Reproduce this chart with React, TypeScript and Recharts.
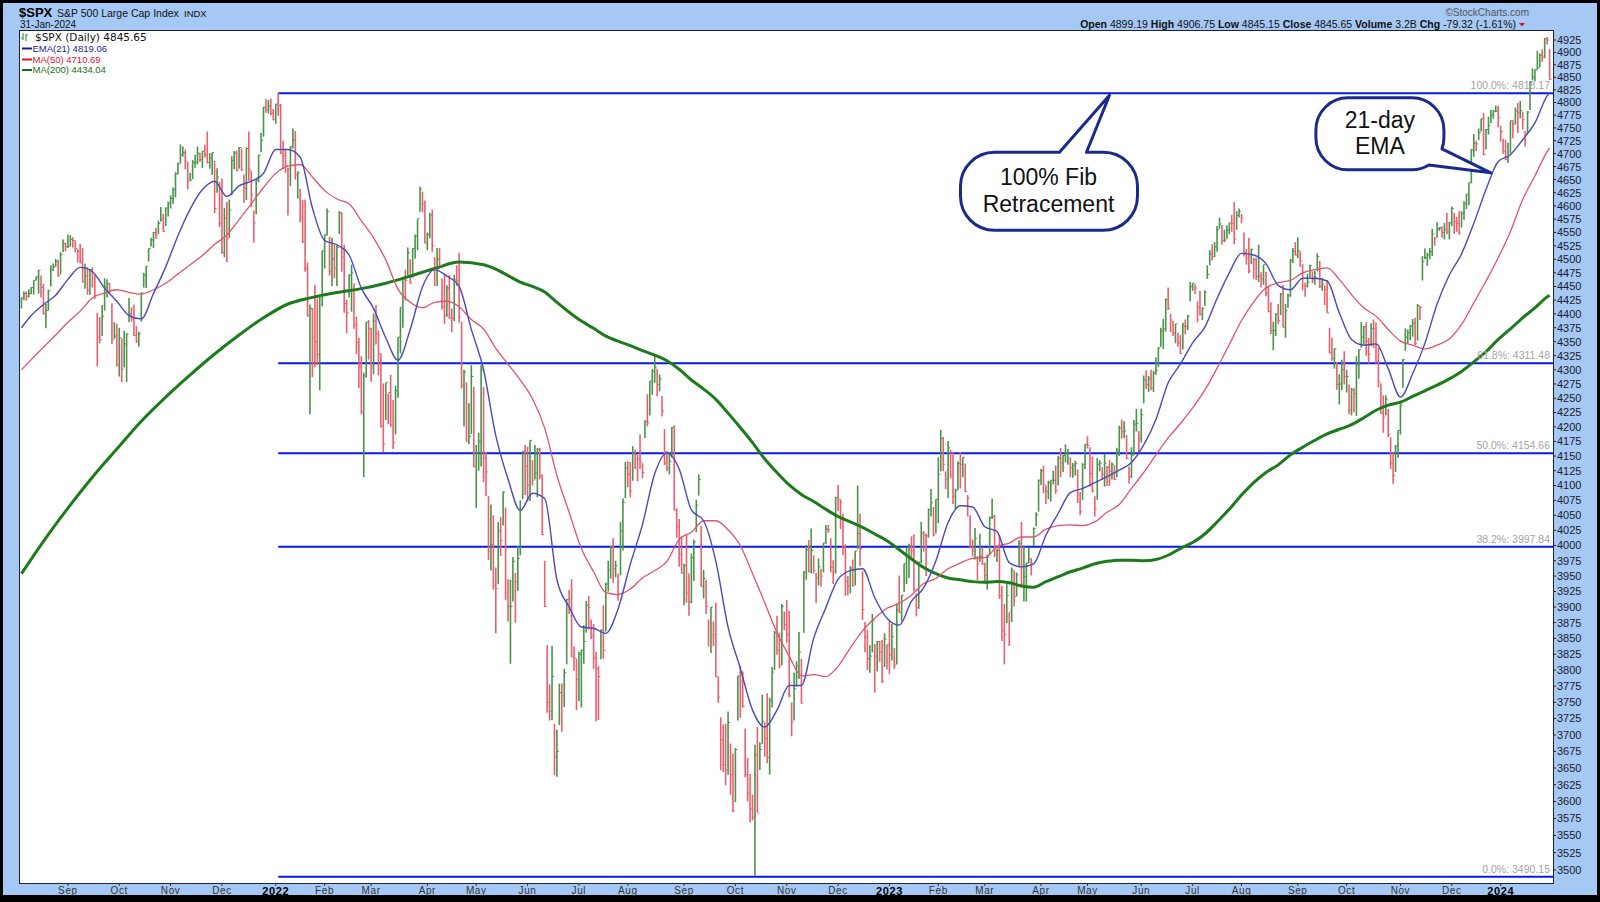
import React from 'react';
import {
  ComposedChart, XAxis, YAxis, Scatter, ErrorBar, Line, ReferenceLine, ReferenceDot,
} from 'recharts';

// daily bars Aug 5 2021 -> Jan 31 2024 : [high, low, close]
const bars: [number, number, number][] = [
  // Aug 2021
  [4430,4410,4429],[4441,4425,4437],[4441,4424,4432],[4445,4430,4437],[4449,4436,4448],[4461,4435,4461],[4468,4461,4468],[4480,4437,4480],[4470,4430,4448],[4455,4399,4400],[4418,4374,4406],[4444,4406,4442],[4489,4450,4480],[4492,4479,4486],[4501,4486,4496],[4499,4468,4470],[4513,4472,4509],[4537,4513,4529],[4531,4515,4523],
  // Sep
  [4546,4521,4524],[4545,4524,4537],[4541,4522,4535],[4535,4513,4520],[4519,4494,4514],[4529,4493,4493],[4521,4457,4459],[4492,4446,4469],[4486,4435,4443],[4482,4435,4481],[4485,4448,4474],[4471,4427,4433],[4402,4306,4358],[4394,4347,4354],[4416,4360,4396],[4465,4406,4449],[4463,4430,4455],[4457,4436,4443],[4419,4346,4353],[4385,4355,4360],[4382,4306,4308],
  // Oct
  [4375,4288,4357],[4356,4278,4301],[4369,4304,4346],[4365,4278,4364],[4429,4385,4400],[4412,4386,4391],[4417,4360,4361],[4378,4348,4351],[4368,4341,4364],[4439,4386,4438],[4475,4448,4471],[4487,4447,4487],[4520,4496,4520],[4540,4524,4536],[4551,4521,4550],[4559,4538,4545],[4572,4547,4567],[4598,4570,4575],[4585,4551,4552],[4597,4562,4596],[4608,4580,4605],
  // Nov
  [4620,4595,4614],[4635,4604,4631],[4664,4616,4661],[4683,4660,4680],[4718,4681,4698],[4714,4694,4702],[4708,4670,4685],[4684,4631,4647],[4663,4648,4649],[4688,4651,4683],[4698,4673,4683],[4714,4679,4701],[4701,4684,4689],[4705,4672,4705],[4717,4692,4698],[4743,4681,4683],[4701,4671,4691],[4702,4659,4702],[4686,4586,4595],[4672,4625,4655],[4646,4560,4567],
  // Dec
  [4652,4510,4513],[4596,4504,4577],[4608,4495,4538],[4612,4540,4592],[4695,4620,4687],[4705,4670,4701],[4706,4666,4668],[4713,4671,4712],[4710,4667,4669],[4660,4606,4634],[4712,4611,4710],[4743,4648,4669],[4667,4598,4621],[4591,4531,4568],[4651,4584,4649],[4698,4645,4697],[4740,4703,4726],[4791,4733,4791],[4807,4780,4786],[4805,4778,4793],[4808,4775,4779],[4787,4765,4766],
  // Jan 2022
  [4797,4758,4797],[4819,4774,4794],[4797,4699,4701],[4725,4671,4696],[4708,4663,4677],[4673,4582,4670],[4714,4638,4713],[4749,4710,4726],[4744,4650,4659],[4666,4614,4663],[4632,4569,4577],[4611,4530,4533],[4612,4477,4483],[4494,4395,4398],[4417,4222,4410],[4411,4287,4357],[4453,4304,4350],[4428,4309,4327],[4432,4264,4432],[4516,4414,4516],
  // Feb
  [4546,4483,4546],[4595,4544,4589],[4542,4470,4477],[4540,4451,4501],[4528,4465,4484],[4526,4451,4522],[4590,4547,4587],[4588,4477,4504],[4527,4402,4419],[4426,4365,4402],[4472,4430,4471],[4490,4404,4475],[4456,4373,4380],[4395,4328,4349],[4357,4268,4305],[4324,4222,4226],[4295,4114,4289],[4385,4286,4385],[4389,4318,4374],
  // Mar
  [4375,4279,4306],[4401,4292,4387],[4416,4345,4364],[4370,4290,4329],[4329,4199,4201],[4276,4157,4171],[4277,4212,4278],[4258,4205,4260],[4291,4200,4204],[4247,4162,4173],[4272,4187,4263],[4358,4251,4358],[4412,4329,4412],[4465,4375,4463],[4481,4424,4461],[4522,4470,4512],[4500,4455,4456],[4520,4466,4520],[4546,4501,4543],[4575,4517,4576],[4637,4589,4632],[4627,4588,4603],[4610,4530,4530],
  // Apr
  [4550,4517,4546],[4587,4539,4583],[4593,4514,4525],[4504,4451,4481],[4521,4451,4500],[4521,4487,4488],[4464,4408,4413],[4472,4382,4397],[4452,4395,4447],[4471,4391,4393],[4410,4367,4392],[4471,4387,4462],[4489,4451,4460],[4512,4384,4394],[4386,4267,4272],[4300,4201,4296],[4278,4175,4175],[4241,4170,4184],[4308,4188,4288],[4270,4131,4132],
  // May
  [4169,4062,4155],[4190,4125,4175],[4308,4132,4300],[4270,4106,4147],[4157,4082,4123],[4082,3976,3991],[4068,3959,4001],[4050,3928,3935],[3964,3858,3930],[4039,3937,4024],[4047,3983,4008],[4090,4033,4089],[4063,3911,3924],[3945,3877,3901],[3944,3810,3901],[3981,3909,3974],[3955,3875,3941],[3999,3926,3979],[4075,3984,4058],[4158,4077,4158],[4169,4084,4132],
  // Jun
  [4166,4074,4101],[4177,4074,4177],[4143,4100,4109],[4169,4110,4121],[4164,4080,4161],[4164,4111,4116],[4119,4017,4018],[3975,3900,3901],[3839,3734,3750],[3778,3722,3736],[3838,3723,3790],[3717,3639,3667],[3708,3637,3675],[3779,3715,3765],[3779,3705,3760],[3802,3743,3796],[3913,3809,3912],[3928,3889,3900],[3945,3820,3822],[3837,3799,3819],[3818,3738,3785],
  // Jul
  [3829,3752,3825],[3832,3742,3831],[3871,3810,3845],[3910,3859,3903],[3918,3864,3899],[3880,3849,3854],[3873,3802,3819],[3829,3721,3802],[3806,3723,3790],[3864,3817,3863],[3903,3818,3831],[3939,3861,3937],[3975,3925,3960],[3999,3946,3999],[4012,3939,3962],[3975,3948,3967],[3954,3910,3921],[4039,3951,4024],[4078,3992,4072],[4140,4079,4130],
  // Aug
  [4141,4097,4119],[4140,4080,4091],[4167,4108,4155],[4161,4128,4152],[4152,4107,4145],[4187,4128,4140],[4138,4112,4122],[4211,4181,4210],[4257,4201,4207],[4280,4220,4280],[4301,4256,4297],[4325,4277,4305],[4302,4253,4274],[4292,4262,4284],[4254,4218,4228],[4196,4135,4138],[4159,4124,4129],[4156,4119,4141],[4200,4147,4199],[4203,4058,4058],[4062,4013,4031],[4044,3965,3986],[4015,3954,3955],
  // Sep
  [3970,3903,3967],[4019,3907,3924],[3954,3886,3908],[3987,3906,3980],[4010,3942,4006],[4076,4022,4067],[4119,4083,4110],[4032,3933,3933],[3960,3914,3946],[3944,3889,3901],[3880,3837,3873],[3900,3827,3900],[3877,3838,3856],[3907,3789,3790],[3790,3749,3758],[3727,3647,3693],[3716,3644,3655],[3717,3624,3647],[3736,3640,3719],[3687,3610,3640],[3672,3584,3586],
  // Oct
  [3680,3599,3678],[3791,3722,3791],[3807,3726,3783],[3798,3742,3744],[3710,3636,3640],[3665,3600,3612],[3641,3569,3589],[3610,3572,3577],[3685,3492,3670],[3712,3584,3583],[3689,3647,3678],[3762,3686,3720],[3719,3667,3695],[3764,3657,3666],[3757,3640,3753],[3805,3742,3797],[3862,3800,3859],[3886,3824,3831],[3859,3803,3807],[3905,3808,3901],[3893,3863,3872],
  // Nov
  [3911,3843,3856],[3894,3758,3760],[3750,3698,3720],[3796,3722,3771],[3814,3774,3807],[3860,3786,3828],[3818,3748,3749],[3958,3859,3956],[4001,3944,3993],[4009,3956,3957],[4028,3954,3992],[3984,3954,3959],[3955,3906,3947],[3979,3935,3965],[3962,3933,3950],[4004,3956,4004],[4034,4003,4027],[4034,4021,4026],[4012,3956,3964],[3976,3937,3958],[4081,3954,4080],
  // Dec
  [4101,4057,4077],[4077,4027,4072],[4053,3984,3999],[4002,3918,3941],[3950,3919,3934],[3966,3922,3963],[3977,3933,3934],[3991,3935,3991],[4100,3994,4020],[4053,3966,3995],[3958,3879,3896],[3876,3828,3852],[3864,3800,3818],[3839,3796,3822],[3889,3828,3878],[3841,3765,3822],[3846,3798,3845],[3846,3813,3829],[3848,3780,3783],[3858,3805,3849],[3840,3801,3840],
  // Jan 2023
  [3878,3794,3824],[3873,3815,3853],[3835,3802,3808],[3906,3809,3895],[3951,3890,3892],[3919,3877,3919],[3970,3924,3970],[3997,3937,3983],[4003,3947,3999],[4015,3977,3991],[4018,3925,3929],[3922,3885,3899],[3973,3897,3973],[4039,3971,4020],[4024,3990,4017],[4020,3950,4016],[4061,4013,4060],[4094,4048,4071],[4064,4015,4018],[4077,4020,4077],
  // Feb
  [4148,4037,4119],[4195,4124,4180],[4183,4124,4136],[4124,4094,4111],[4176,4079,4164],[4161,4112,4118],[4157,4069,4082],[4095,4060,4091],[4141,4092,4137],[4157,4095,4136],[4148,4114,4148],[4137,4089,4090],[4084,4048,4079],[4050,3995,3997],[4010,3982,3991],[4029,3977,4012],[3983,3943,3970],[4019,3973,3982],[3997,3968,3970],
  // Mar
  [3972,3939,3951],[3985,3928,3981],[4048,3984,4046],[4078,4044,4048],[4051,3981,3986],[3995,3973,3992],[4017,3913,3918],[3934,3846,3862],[3905,3809,3856],[3937,3874,3919],[3891,3838,3892],[3964,3876,3960],[3959,3901,3917],[3956,3917,3952],[4009,3964,4003],[4039,3936,3937],[4000,3909,3949],[3972,3909,3971],[3996,3971,3978],[3979,3951,3971],[4030,3999,4028],[4055,4032,4051],[4110,4056,4109],
  // Apr
  [4128,4101,4125],[4133,4087,4101],[4100,4069,4090],[4108,4077,4105],[4109,4073,4109],[4125,4102,4109],[4134,4086,4092],[4150,4100,4146],[4164,4114,4138],[4152,4123,4151],[4170,4139,4155],[4162,4135,4155],[4148,4114,4130],[4138,4113,4134],[4142,4117,4137],[4127,4071,4072],[4089,4050,4056],[4138,4076,4135],[4170,4128,4170],
  // May
  [4184,4163,4168],[4165,4098,4120],[4149,4088,4091],[4082,4048,4061],[4147,4076,4136],[4143,4124,4138],[4131,4110,4119],[4154,4098,4138],[4133,4099,4131],[4143,4099,4124],[4139,4110,4136],[4135,4109,4110],[4164,4114,4159],[4202,4150,4198],[4213,4180,4192],[4210,4181,4193],[4186,4145,4146],[4132,4103,4115],[4165,4113,4151],[4212,4152,4205],[4231,4192,4206],[4193,4156,4180],
  // Jun
  [4232,4173,4221],[4290,4241,4282],[4299,4266,4274],[4289,4261,4284],[4300,4264,4268],[4298,4261,4294],[4322,4291,4299],[4340,4305,4339],[4375,4341,4369],[4391,4337,4373],[4428,4368,4426],[4448,4407,4410],[4400,4367,4389],[4387,4360,4366],[4382,4347,4382],[4366,4341,4348],[4362,4328,4329],[4384,4336,4378],[4390,4363,4377],[4398,4371,4396],[4458,4423,4450],
  // Jul
  [4456,4442,4456],[4454,4436,4447],[4423,4385,4412],[4442,4397,4399],[4412,4389,4410],[4443,4415,4439],[4489,4464,4472],[4517,4489,4510],[4528,4498,4505],[4532,4504,4523],[4562,4514,4555],[4578,4557,4566],[4564,4527,4535],[4555,4532,4536],[4563,4538,4555],[4568,4547,4568],[4583,4551,4567],[4607,4528,4537],[4590,4555,4582],[4595,4578,4589],
  // Aug
  [4585,4567,4577],[4550,4505,4513],[4519,4490,4502],[4540,4474,4478],[4520,4491,4518],[4503,4464,4499],[4503,4462,4468],[4527,4458,4469],[4476,4448,4464],[4490,4453,4490],[4477,4432,4438],[4450,4403,4404],[4421,4364,4370],[4386,4335,4370],[4401,4360,4400],[4418,4382,4388],[4438,4398,4436],[4453,4376,4376],[4418,4357,4406],[4437,4411,4433],[4501,4431,4498],[4521,4493,4515],[4532,4507,4508],
  // Sep
  [4541,4502,4516],[4515,4486,4497],[4491,4443,4466],[4457,4431,4451],[4473,4448,4458],[4490,4467,4488],[4478,4456,4462],[4479,4453,4467],[4511,4478,4505],[4497,4447,4450],[4466,4442,4454],[4452,4416,4444],[4462,4402,4402],[4375,4329,4330],[4357,4316,4320],[4338,4302,4337],[4314,4265,4274],[4292,4239,4275],[4318,4264,4300],[4333,4274,4288],
  // Oct
  [4300,4260,4288],[4274,4222,4229],[4268,4220,4264],[4268,4225,4258],[4324,4219,4309],[4336,4284,4336],[4385,4339,4358],[4378,4345,4377],[4385,4325,4350],[4357,4311,4328],[4383,4342,4374],[4390,4339,4373],[4385,4311,4315],[4339,4269,4278],[4276,4223,4224],[4255,4190,4217],[4255,4220,4248],[4231,4182,4187],[4182,4128,4137],[4156,4103,4117],[4169,4123,4167],[4194,4147,4194],
  // Nov
  [4245,4187,4238],[4319,4268,4318],[4374,4334,4358],[4372,4347,4366],[4380,4353,4378],[4391,4359,4383],[4393,4343,4347],[4418,4352,4415],[4415,4389,4412],[4506,4461,4496],[4520,4500,4503],[4512,4488,4508],[4521,4500,4514],[4557,4506,4547],[4542,4525,4538],[4569,4540,4557],[4560,4553,4559],[4561,4540,4550],[4568,4537,4555],[4587,4547,4551],[4570,4537,4568],
  // Dec
  [4599,4562,4595],[4587,4547,4570],[4579,4551,4567],[4590,4546,4549],[4590,4559,4586],[4609,4574,4604],[4623,4594,4622],[4644,4601,4644],[4709,4643,4707],[4738,4694,4720],[4725,4705,4719],[4749,4726,4741],[4768,4743,4768],[4779,4697,4698],[4748,4708,4747],[4772,4737,4755],[4785,4759,4775],[4785,4768,4782],[4794,4781,4783],[4793,4751,4770],
  // Jan 2024
  [4754,4723,4743],[4729,4700,4705],[4727,4687,4689],[4721,4682,4697],[4764,4700,4764],[4765,4730,4757],[4790,4757,4783],[4799,4740,4780],[4803,4769,4784],[4782,4747,4766],[4744,4714,4739],[4783,4740,4781],[4842,4785,4840],[4868,4844,4850],[4866,4842,4865],[4903,4865,4869],[4898,4870,4894],[4906,4881,4891],[4929,4888,4928],[4931,4916,4925],[4907,4845,4846],
];
const prevClose = 4403; // close of the day before the first bar

// [bar index, value]
const ema21: [number, number][] = [
  [0,4375],[4,4397],[9,4417],[14,4434],[19,4463],[24,4485],[29,4477],[34,4447],[39,4423],[44,4397],[49,4391],[54,4437],[59,4486],[64,4544],[69,4594],[74,4631],[79,4647],[84,4618],[89,4638],[94,4647],[99,4662],[104,4708],[109,4708],[114,4693],[119,4596],[124,4535],[129,4527],[134,4508],[139,4447],[144,4410],[149,4357],[154,4317],[159,4372],[164,4449],[169,4481],[174,4469],[179,4450],[184,4372],[189,4300],[194,4185],[199,4111],[204,4058],[209,4087],[214,4078],[219,3944],[224,3900],[229,3868],[234,3866],[239,3858],[244,3897],[249,3969],[254,4035],[259,4120],[264,4155],[269,4128],[274,4059],[279,4041],[284,3974],[289,3868],[294,3803],[299,3738],[304,3712],[309,3738],[314,3776],[319,3776],[324,3850],[329,3899],[334,3945],[339,3959],[344,3962],[349,3915],[354,3882],[359,3871],[364,3909],[369,3931],[374,3975],[379,4038],[384,4066],[389,4064],[394,4031],[399,4023],[404,3972],[409,3965],[414,3970],[419,4017],[424,4053],[429,4088],[434,4095],[439,4105],[444,4115],[449,4126],[454,4139],[459,4169],[464,4213],[469,4277],[474,4310],[479,4348],[484,4376],[489,4428],[494,4475],[499,4511],[504,4508],[509,4492],[514,4452],[519,4444],[524,4465],[529,4465],[534,4460],[539,4402],[544,4354],[549,4344],[554,4346],[559,4302],[564,4252],[569,4293],[574,4347],[579,4418],[584,4471],[589,4510],[594,4567],[599,4631],[604,4685],[609,4698],[614,4727],[619,4760],[624,4813],[625,4819],
];
const ma50: [number, number][] = [
  [0,4300],[4,4318],[9,4340],[14,4362],[19,4385],[24,4405],[29,4429],[34,4438],[39,4444],[44,4439],[49,4436],[54,4444],[59,4456],[64,4473],[69,4490],[74,4507],[79,4528],[84,4545],[89,4574],[94,4604],[99,4635],[104,4662],[109,4676],[114,4679],[119,4655],[124,4629],[129,4613],[134,4604],[139,4572],[144,4540],[149,4499],[154,4445],[159,4421],[164,4411],[169,4421],[174,4423],[179,4413],[184,4390],[189,4373],[194,4338],[199,4310],[204,4282],[209,4249],[214,4198],[219,4117],[224,4055],[229,3995],[234,3957],[239,3923],[244,3920],[249,3929],[254,3947],[259,3959],[264,3974],[269,4010],[274,4022],[279,4041],[284,4041],[289,4026],[294,4000],[299,3954],[304,3907],[309,3859],[314,3822],[319,3791],[324,3793],[329,3790],[334,3806],[339,3835],[344,3862],[349,3882],[354,3898],[359,3906],[364,3919],[369,3938],[374,3946],[379,3962],[384,3971],[389,3979],[394,3980],[399,3998],[404,4004],[409,4014],[414,4014],[419,4027],[424,4033],[429,4034],[434,4033],[439,4039],[444,4055],[449,4068],[454,4095],[459,4122],[464,4152],[469,4181],[474,4206],[479,4233],[484,4264],[489,4303],[494,4345],[499,4388],[504,4422],[509,4447],[514,4457],[519,4461],[524,4475],[529,4481],[534,4484],[539,4463],[544,4435],[549,4411],[554,4396],[559,4372],[564,4351],[569,4344],[574,4337],[579,4344],[584,4355],[589,4381],[594,4420],[599,4460],[604,4503],[609,4552],[614,4612],[619,4657],[624,4704],[625,4711],
];
const ma200: [number, number][] = [
  [0,3954],[9,4007],[19,4062],[29,4114],[39,4162],[49,4210],[59,4252],[69,4291],[79,4328],[89,4362],[99,4393],[109,4418],[119,4430],[129,4439],[139,4446],[149,4456],[159,4469],[169,4483],[179,4495],[189,4490],[194,4482],[199,4470],[204,4458],[209,4450],[214,4440],[219,4421],[224,4403],[229,4387],[234,4374],[239,4360],[244,4351],[249,4343],[254,4334],[259,4326],[264,4316],[269,4301],[274,4282],[279,4266],[284,4248],[289,4224],[294,4199],[299,4173],[304,4145],[309,4122],[314,4101],[319,4085],[324,4073],[329,4060],[334,4048],[339,4039],[344,4030],[349,4019],[354,4008],[359,3993],[364,3978],[369,3964],[374,3954],[379,3947],[384,3944],[389,3941],[394,3940],[399,3941],[404,3939],[409,3934],[414,3932],[419,3941],[424,3949],[429,3957],[434,3963],[439,3970],[444,3974],[449,3976],[454,3976],[459,3975],[464,3977],[469,3984],[474,3995],[479,4005],[484,4019],[489,4039],[494,4060],[499,4084],[504,4105],[509,4122],[514,4135],[519,4152],[524,4165],[529,4177],[534,4188],[539,4196],[544,4204],[549,4216],[554,4229],[559,4238],[564,4243],[569,4253],[574,4263],[579,4273],[584,4284],[589,4297],[594,4314],[599,4332],[604,4354],[609,4373],[614,4393],[619,4411],[624,4431],[625,4434],
];

const monthTicks = [19, 40, 61, 82, 104, 124, 143, 166, 186, 207, 228, 248, 271, 292, 313, 334, 355, 375, 394, 417, 436, 458, 479, 499, 522, 542, 564, 585, 605];
const monthLabels = ['Sep', 'Oct', 'Nov', 'Dec', '2022', 'Feb', 'Mar', 'Apr', 'May', 'Jun', 'Jul', 'Aug', 'Sep', 'Oct', 'Nov', 'Dec', '2023', 'Feb', 'Mar', 'Apr', 'May', 'Jun', 'Jul', 'Aug', 'Sep', 'Oct', 'Nov', 'Dec', '2024'];

const priceTicks = [
  3500, 3525, 3550, 3575, 3600, 3625, 3650, 3675, 3700, 3725, 3750, 3775, 3800, 3825, 3850, 3875, 3900, 3925, 3950, 3975,
  4000, 4025, 4050, 4075, 4100, 4125, 4150, 4175, 4200, 4225, 4250, 4275, 4300, 4325, 4350, 4375, 4400, 4425, 4450, 4475,
  4500, 4525, 4550, 4575, 4600, 4625, 4650, 4675, 4700, 4725, 4750, 4775, 4800, 4825, 4850, 4875, 4900, 4925,
];

const fibLevels = [4818.17, 4311.48, 4154.66, 3997.84, 3490.15];
const fibLabels = ['100.0%: 4818.17', '61.8%: 4311.48', '50.0%: 4154.66', '38.2%: 3997.84', '0.0%: 3490.15'];
const fibStart = 105; // Jan 4 2022

const FONT = '"Liberation Sans", Arial, sans-serif';
const GREEN_BAR = '#4a934a';
const RED_BAR = '#e8606f';
const EMA_C = '#4a4ab8';
const MA50_C = '#e2536a';
const MA200_C = '#1d7a1d';
const FIB_C = '#0a18e8';
const NAVY = '#1a2a8c';
const X_DOMAIN: [number, number] = [-0.6, 626.4];
const Y_DOMAIN: [number, number] = [3481.3, 4943.3];

const closeTick = (color: string) => (p: any) => (
  <line x1={p.cx} x2={p.cx + 2} y1={p.cy} y2={p.cy} stroke={color} strokeWidth={1} />
);

const fibBubble = (p: any) => {
  const { cx, cy } = p;
  const x0 = cx - 149, x1 = cx + 28, y0 = cy + 59, y1 = cy + 137, r = 34;
  const d = `M ${x0 + r} ${y0} L ${cx - 50} ${y0} L ${cx} ${cy + 2} L ${cx - 23} ${y0} L ${x1 - r} ${y0}
    A ${r} ${r} 0 0 1 ${x1} ${y0 + r} L ${x1} ${y1 - r} A ${r} ${r} 0 0 1 ${x1 - r} ${y1}
    L ${x0 + r} ${y1} A ${r} ${r} 0 0 1 ${x0} ${y1 - r} L ${x0} ${y0 + r} A ${r} ${r} 0 0 1 ${x0 + r} ${y0} Z`;
  return (
    <g>
      <path d={d} fill="#fff" stroke={NAVY} strokeWidth={3} strokeLinejoin="round" />
      <text x={cx - 61} y={cy + 92} textAnchor="middle" fontSize={23} fontFamily={FONT} fill="#111">100% Fib</text>
      <text x={cx - 61} y={cy + 119} textAnchor="middle" fontSize={23} fontFamily={FONT} fill="#111">Retracement</text>
    </g>
  );
};

const emaBubble = (p: any) => {
  const { cx, cy } = p;
  const x0 = cx - 175, x1 = cx - 47, y0 = cy - 75, y1 = cy - 3, r = 32;
  const ax = x1 - r, ay = y1 - r;
  const a1 = (20 * Math.PI) / 180, a2 = (58 * Math.PI) / 180;
  const p1 = [ax + r * Math.cos(a1), ay + r * Math.sin(a1)];
  const p2 = [ax + r * Math.cos(a2), ay + r * Math.sin(a2)];
  const d = `M ${x0 + r} ${y0} L ${x1 - r} ${y0} A ${r} ${r} 0 0 1 ${x1} ${y0 + r} L ${x1} ${y1 - r}
    A ${r} ${r} 0 0 1 ${p1[0]} ${p1[1]} L ${cx} ${cy} L ${p2[0]} ${p2[1]} A ${r} ${r} 0 0 1 ${x1 - r} ${y1}
    L ${x0 + r} ${y1} A ${r} ${r} 0 0 1 ${x0} ${y1 - r} L ${x0} ${y0 + r} A ${r} ${r} 0 0 1 ${x0 + r} ${y0} Z`;
  return (
    <g>
      <path d={d} fill="#fff" stroke={NAVY} strokeWidth={3} strokeLinejoin="round" />
      <text x={cx - 111} y={cy - 45} textAnchor="middle" fontSize={23} fontFamily={FONT} fill="#111">21-day</text>
      <text x={cx - 111} y={cy - 19} textAnchor="middle" fontSize={23} fontFamily={FONT} fill="#111">EMA</text>
    </g>
  );
};

const fibText = (label: string) => (p: any) => (
  <text x={p.cx - 3} y={p.cy - 4} textAnchor="end" fontSize={10.5} fontFamily={FONT} fill="#a3a3a3">{label}</text>
);

const monthTick = (p: any) => {
  const lab = monthLabels[monthTicks.indexOf(p.payload.value)];
  const year = /^\d{4}$/.test(lab);
  return (
    <text x={p.x} y={p.y} dy="0.71em" textAnchor="middle" fontFamily={FONT}
      fontSize={year ? 11 : 10} fontWeight={year ? 700 : 400} fill={year ? '#000' : '#333'} letterSpacing={0.6}>
      {lab}
    </text>
  );
};

export default function App() {
  const rows: Record<string, number>[] = bars.map(([h, l, c], i) => ({ i, h, l, c }));
  ema21.forEach(([i, v]) => { rows[i].ema = v; });
  ma50.forEach(([i, v]) => { rows[i].ma50 = v; });
  ma200.forEach(([i, v]) => { rows[i].ma200 = v; });

  const up: any[] = [];
  const down: any[] = [];
  bars.forEach(([h, l, c], i) => {
    const prev = i === 0 ? prevClose : bars[i - 1][2];
    (c >= prev ? up : down).push({ i, c, err: [c - l, h - c] });
  });

  return (
    <div style={{ position: 'absolute', left: 0, top: 0, width: 1600, height: 902, background: '#000', overflow: 'hidden' }}>
      <div style={{ position: 'absolute', left: 3, top: 3, width: 1594, height: 892, background: '#a6c8f5' }} />
      <div style={{ position: 'absolute', left: 19, top: 30, width: 1533, height: 852, background: '#fff', border: '1px solid #1e2233' }} />

      <div style={{ position: 'absolute', left: 0, top: 0 }}>
        <ComposedChart width={1600} height={902} data={rows} margin={{ top: 31, right: 0, bottom: 0, left: 20 }}>
          <XAxis type="number" dataKey="i" domain={X_DOMAIN} allowDataOverflow ticks={monthTicks} interval={0}
            tick={monthTick} tickSize={3} tickMargin={1} axisLine={false} tickLine={{ stroke: '#333' }} height={19} />
          <YAxis type="number" orientation="right" scale="log" domain={Y_DOMAIN} allowDataOverflow ticks={priceTicks}
            interval={0} width={47} tickSize={3} tickMargin={1} axisLine={false} tickLine={{ stroke: '#222' }}
            tick={{ fontSize: 11, fill: '#1a1a2a', fontFamily: FONT }} />

          {fibLevels.map((v) => (
            <ReferenceLine key={v} segment={[{ x: fibStart, y: v }, { x: X_DOMAIN[1], y: v }]}
              stroke={FIB_C} strokeWidth={2} ifOverflow="visible" />
          ))}
          {fibLevels.map((v, k) => (
            <ReferenceDot key={'t' + v} x={X_DOMAIN[1]} y={v} r={0} shape={fibText(fibLabels[k])} ifOverflow="visible" />
          ))}

          <Scatter data={up} dataKey="c" shape={closeTick(GREEN_BAR)} isAnimationActive={false}>
            <ErrorBar dataKey="err" direction="y" width={0} stroke={GREEN_BAR} strokeWidth={1.6} isAnimationActive={false} />
          </Scatter>
          <Scatter data={down} dataKey="c" shape={closeTick(RED_BAR)} isAnimationActive={false}>
            <ErrorBar dataKey="err" direction="y" width={0} stroke={RED_BAR} strokeWidth={1.6} isAnimationActive={false} />
          </Scatter>

          <Line dataKey="ma200" type="monotone" stroke={MA200_C} strokeWidth={3} dot={false} connectNulls isAnimationActive={false} />
          <Line dataKey="ma50" type="monotone" stroke={MA50_C} strokeWidth={1.3} dot={false} connectNulls isAnimationActive={false} />
          <Line dataKey="ema" type="monotone" stroke={EMA_C} strokeWidth={1.4} dot={false} connectNulls isAnimationActive={false} />

          <ReferenceDot x={445} y={4818.17} r={0} shape={fibBubble} ifOverflow="visible" zIndex={3000} />
          <ReferenceDot x={601} y={4663} r={0} shape={emaBubble} ifOverflow="visible" zIndex={3000} />
        </ComposedChart>
      </div>

      <svg width={1600} height={902} style={{ position: 'absolute', left: 0, top: 0, pointerEvents: 'none' }}>
        <text x={19} y={17} fontSize={13} fontWeight={700} fontFamily={FONT} fill="#000">$SPX</text>
        <text x={57} y={17} fontSize={10.5} fontFamily={FONT} fill="#111">S&amp;P 500 Large Cap Index</text>
        <text x={184} y={17} fontSize={9.5} fontFamily={FONT} fill="#111">INDX</text>
        <text x={20} y={28} fontSize={10} fontFamily={FONT} fill="#111">31-Jan-2024</text>

        <text x={1529} y={15.5} textAnchor="end" fontSize={10} fontFamily={FONT} fill="#555">©StockCharts.com</text>
        <text x={1516} y={27.5} textAnchor="end" fontSize={10.5} fontFamily={FONT} fill="#111">
          <tspan fontWeight={700}>Open</tspan> 4899.19 <tspan fontWeight={700}>High</tspan> 4906.75 <tspan fontWeight={700}>Low</tspan> 4845.15 <tspan fontWeight={700}>Close</tspan> 4845.65 <tspan fontWeight={700}>Volume</tspan> 3.2B <tspan fontWeight={700}>Chg</tspan> -79.32 (-1.61%)
        </text>
        <path d="M 1519 23 L 1525 23 L 1522 26.5 Z" fill="#e0102a" />

        <line x1={23} x2={23} y1={33} y2={40} stroke={GREEN_BAR} strokeWidth={1.2} />
        <line x1={21} x2={23} y1={38} y2={38} stroke={GREEN_BAR} strokeWidth={1} />
        <line x1={26} x2={26} y1={34} y2={41} stroke={GREEN_BAR} strokeWidth={1.2} />
        <line x1={26} x2={28} y1={35} y2={35} stroke={GREEN_BAR} strokeWidth={1} />
        <text x={35} y={40.5} fontSize={10.5} fontFamily='"DejaVu Sans", Verdana, sans-serif' fill="#111">$SPX (Daily) 4845.65</text>

        <line x1={22} x2={32} y1={48.5} y2={48.5} stroke="#1a1a9a" strokeWidth={2} />
        <text x={32.5} y={51.5} fontSize={9.5} fontFamily={FONT} fill="#1a1a9a">EMA(21) 4819.06</text>
        <line x1={22} x2={32} y1={59.5} y2={59.5} stroke="#e0102a" strokeWidth={2} />
        <text x={32.5} y={62.5} fontSize={9.5} fontFamily={FONT} fill="#e0102a">MA(50) 4710.69</text>
        <line x1={22} x2={32} y1={70} y2={70} stroke="#167016" strokeWidth={2} />
        <text x={32.5} y={73} fontSize={9.5} fontFamily={FONT} fill="#167016">MA(200) 4434.04</text>
      </svg>
    </div>
  );
}
